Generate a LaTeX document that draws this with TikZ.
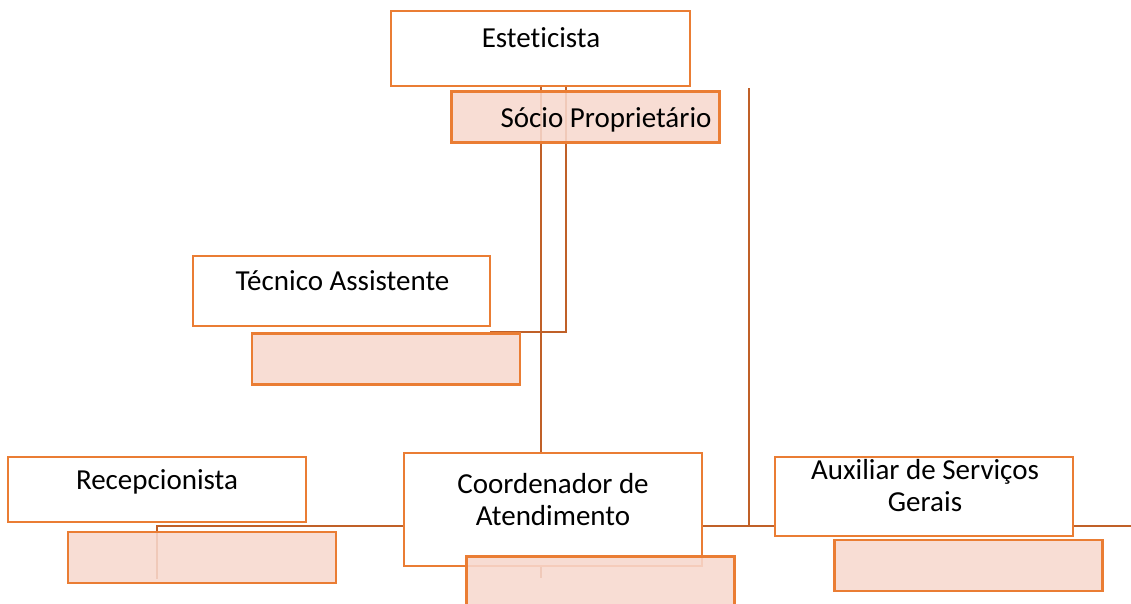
\documentclass[tikz,border=0pt]{standalone}
\usepackage{fontspec}
\setmainfont[Ligatures=NoCommon]{Carlito}
\definecolor{boxline}{RGB}{234,125,52}
\definecolor{conn}{RGB}{192,96,40}
\definecolor{pinkfill}{RGB}{247,216,206}
\begin{document}
\begin{tikzpicture}[x=1pt,y=-1pt,
  whitebox/.style={draw=boxline,line width=2.8pt,fill=white,rectangle,inner sep=0pt,minimum width=#1},
  pinkbox/.style={draw=boxline,line width=2.8pt,fill=pinkfill,fill opacity=0.88,draw opacity=1,text opacity=1,rectangle,inner sep=0pt,minimum width=268pt,minimum height=51pt},
  lbl/.style={font=\fontsize{29}{32}\selectfont,anchor=base,inner sep=0pt,align=center,text=black},
  connector/.style={draw=conn,line width=2.4pt}]
\useasboundingbox (0,0) rectangle (1131,603);
\clip (0,0) rectangle (1131,603);
% junction coordinates
\coordinate (j1) at (541,578);
\coordinate (j2) at (566,332);
\coordinate (top3) at (749,88);
\coordinate (j3) at (749,526);
\coordinate (j4) at (157,526);
\coordinate (recend) at (157,579);
\coordinate (rend) at (1135,526);
% connectors
\draw[connector] (541,86) -- (j1);
\draw[connector] (566,86) -- (j2) -- (490,332);
\draw[connector] (top3) -- (j3);
\draw[connector] (recend) -- (j4) -- (rend);
% white boxes
\node[whitebox=299pt,minimum height=75pt] (est) at (540.5,48.5) {};
\node[whitebox=297pt,minimum height=70pt] (tec) at (341.5,291) {};
\node[whitebox=298pt,minimum height=65pt] (rec) at (157,489.5) {};
\node[whitebox=298pt,minimum height=113pt] (coo) at (553,509.5) {};
\node[whitebox=298pt,minimum height=79pt] (aux) at (924,496.5) {};
% pink boxes
\node[pinkbox] (soc) at (585.5,117) {};
\node[pinkbox] (tecp) at (386,359) {};
\node[pinkbox] (recp) at (202,557.5) {};
\node[pinkbox] (coop) at (600.5,582) {};
\node[pinkbox] (auxp) at (968.5,565.5) {};
% labels
\node[lbl] (estT) at (541,47) {Esteticista};
\node[lbl] (socT) at (606,127) {Sócio Proprietário};
\node[lbl] (tecT) at (342.5,290) {Técnico Assistente};
\node[lbl] (recT) at (157,489) {Recepcionista};
\node[lbl] (cooT) at (553,525) {Coordenador de\\Atendimento};
\node[lbl] (auxT) at (925,511) {Auxiliar de Serviços\\Gerais};
\end{tikzpicture}
\end{document}
